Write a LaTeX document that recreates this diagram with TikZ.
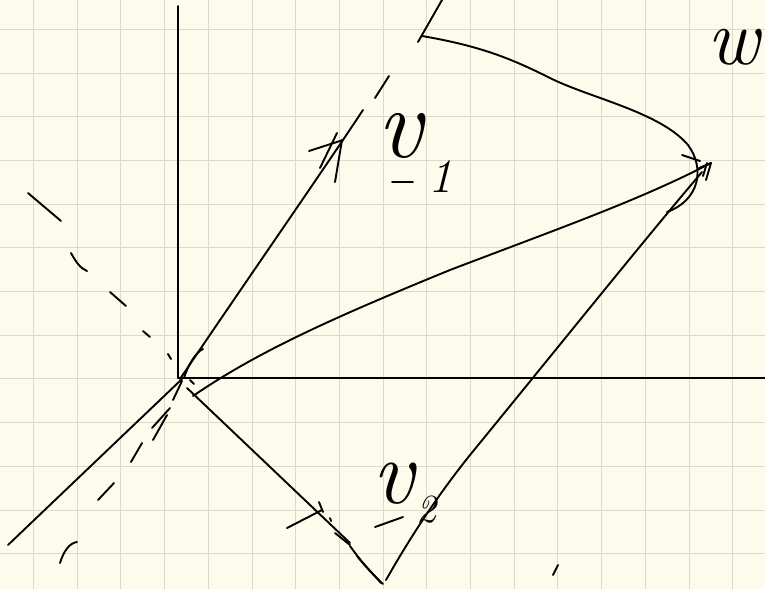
\documentclass[tikz,border=0pt]{standalone}
\usepackage{fontspec}
\definecolor{paper}{HTML}{FDFBEC}
\definecolor{gridc}{HTML}{DEDACB}
\begin{document}
\begin{tikzpicture}[x=1pt,y=-1pt,
  pen/.style={line width=1.9pt, line cap=round, line join=round, black},
  gridline/.style={gridc, line width=0.9pt},
  lbl/.style={inner sep=0pt, outer sep=0pt, font=\itshape}]
\fill[paper] (0,0) rectangle (765,589);
\useasboundingbox (0,0) rectangle (765,589);
% grid
\foreach \i in {0,...,17} \draw[gridline] ({33.5+43.7*\i},0) -- ++(0,589);
\foreach \j in {0,...,13} \draw[gridline] (0,{29.3+43.7*\j}) -- ++(765,0);
% key points
\coordinate (O) at (180,379);
\coordinate (ytop) at (178,6);
\coordinate (xend) at (765,378);
\coordinate (zend) at (8,545);
\coordinate (V1) at (363,110);
\coordinate (V2) at (383,584);
\coordinate (W) at (711,163);
\coordinate (V2b) at (386,580);
% axes
\draw[pen] (178,378) -- (ytop);
\draw[pen] (178,378) -- (xend);
\draw[pen] (zend) -- (182,379);
% v1
\draw[pen] (O) .. controls (240,290) and (320,175) .. (V1);
\draw[pen] (309,151) -- (343,140);
\draw[pen] (320,168) -- (337,133);
\draw[pen] (335,182) -- (342,140);
% v1 extension dashes
\draw[pen] (375,98) -- (389,76);
\draw[pen] (418,42) -- (442,0);
\draw[pen] (173,400) -- (182,381);
\draw[pen] (152,428) -- (170,408);
\draw[pen] (153,440) -- (167,415);
\draw[pen] (131,462) -- (142,443);
\draw[pen] (98,500) -- (114,483);
\draw[pen] (60,563) .. controls (64,550) and (70,543) .. (77,542);
% other dashed line (upper left)
\draw[pen] (28,193) -- (61,221);
\draw[pen] (71,253) .. controls (76,262) and (80,268) .. (87,271);
\draw[pen] (110,292) -- (126,306);
\draw[pen] (143,331) -- (150,337);
\draw[pen] (168,354) -- (171,359);
% small arc near origin
\draw[pen] (203,349) .. controls (196,352) and (188,365) .. (184,378);
\draw[pen] (190,380) -- (194,384);
% v2
\draw[pen] (187,388) -- (350,543);
\draw[pen] (335,533) -- (350,545);
\draw[pen] (350,546) .. controls (360,560) and (370,572) .. (V2);
\draw[pen] (357,556) .. controls (365,566) and (375,576) .. (381,583);
\draw[pen] (287,528) -- (322,510);
\draw[pen] (319,502) -- (323,512);
\draw[pen] (330,518) -- (331,521);
% return side of parallelogram
\draw[pen] (V2b) .. controls (420,520) and (450,480) .. (470,455)
  .. controls (560,345) and (640,245) .. (702,172);
% w (sum)
\draw[pen] (193,396) .. controls (260,350) and (340,315) .. (450,270)
  .. controls (560,228) and (640,200) .. (W);
\draw[pen] (699,168) -- (W) -- (706,180);
\draw[pen] (707,163) -- (703,176);
% upper curve
\draw[pen] (422,36) .. controls (480,46) and (510,58) .. (550,78)
  .. controls (590,98) and (660,112) .. (688,145)
  .. controls (705,168) and (700,200) .. (667,212);
\draw[pen] (682,155) -- (700,161);
% stray comma
\draw[pen] (553,575) -- (558,565);
% labels
\node[lbl] (lv1) at (400,136) {\fontsize{100}{100}\selectfont v};
\node[lbl] (lv1s) at (440,177) {\fontsize{48}{48}\selectfont 1};
\draw[pen] (392,182) -- (413,182);
\node[lbl] (lv2) at (393,484) {\fontsize{92}{92}\selectfont v};
\node[lbl] (lv2s) at (426,510) {\fontsize{40}{40}\selectfont 2};
\draw[pen] (375,527) -- (403,517);
\node[lbl] (lw) at (733,47) {\fontsize{80}{80}\selectfont w};
\end{tikzpicture}
\end{document}
